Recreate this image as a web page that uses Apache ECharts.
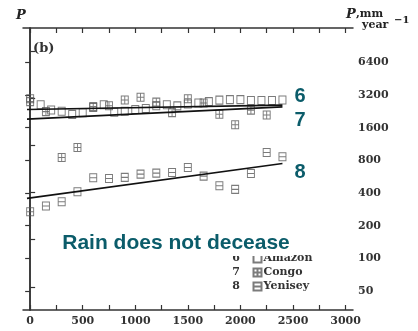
<!DOCTYPE html>
<html>
<head>
<meta charset="utf-8">
<script src="https://cdn.jsdelivr.net/npm/echarts@6.0.0/dist/echarts.min.js"></script>
<style>
  html, body { margin: 0; padding: 0; background: #fff; }
  #chart { width: 418px; height: 331px; }
</style>
</head>
<body>
<div id="chart"></div>
<script>
// Amazon (6), every 100 units
var amazonX = [0, 100, 200, 300, 400, 500, 600, 700, 800, 900, 1000, 1100, 1200,
  1300, 1400, 1500, 1600, 1700, 1800, 1900, 2000, 2100, 2200, 2300, 2400];
var amazonP = [2950, 2600, 2330, 2270, 2120, 2200, 2450, 2600, 2220, 2270, 2350, 2400, 2550,
  2600, 2540, 2640, 2700, 2780, 2870, 2900, 2900, 2850, 2850, 2850, 2880];

// Congo (7)
var congoX = [0, 150, 300, 450, 600, 750, 900, 1050, 1200, 1350, 1500, 1650, 1800, 1950, 2100, 2250];
var congoP = [2780, 2250, 851, 1050, 2500, 2550, 2880, 3050, 2750, 2200, 2950, 2700, 2130, 1700, 2320, 2090];

// Yenisey (8)
var yeniseyX = [0, 150, 300, 450, 600, 750, 900, 1050, 1200, 1350, 1500, 1650, 1800, 1950, 2100, 2250, 2400];
var yeniseyP = [269, 303, 332, 410, 552, 545, 557, 597, 610, 619, 688, 572, 466, 432, 606, 946, 862];

// fitted trend lines, end points
var trendX = [-30, 2400];
var trend6 = [2354, 2580];
var trend7 = [1916, 2487];
var trend8 = [357, 749];

var xLabels = [0, 500, 1000, 1500, 2000, 2500, 3000];
var xTicks = [0, 250, 500, 750, 1000, 1250, 1500, 1750, 2000, 2250, 2500, 2750, 3000];
var yLabels = [50, 100, 200, 400, 800, 1600, 3200, 6400];
var leftTicks = [54.6, 148.4, 403.4, 1096.6, 2981, 8103];

var teal = '#0b5c6a';
var serif = 'DejaVu Serif';
var markColor = '#5a5a5a';

function pairs(xs, ys) {
  return xs.map(function (x, i) { return [x, ys[i]]; });
}

function plain(v) { return String(Math.round(v)); }

var symPlain = 'path://M0,0H10V10H0Z';
var symCross = 'path://M0,0H10V10H0Z M5,0V10 M0,5H10';
var symBar = 'path://M0,0H10V10H0Z M0,5H10';

var axisLine = { show: true, lineStyle: { color: '#333', width: 1.5 } };

var chart = echarts.init(document.getElementById('chart'), null, { renderer: 'canvas' });

function scatter(name, xs, ys, sym) {
  return {
    name: name, type: 'scatter', data: pairs(xs, ys),
    symbol: sym, symbolSize: [7, 8], xAxisIndex: 0, yAxisIndex: 0,
    itemStyle: { color: 'none', borderColor: markColor, borderWidth: 1 },
    emphasis: { disabled: true }, z: 3
  };
}

function trend(ys) {
  return {
    type: 'line', data: pairs(trendX, ys), showSymbol: false, symbol: 'none',
    lineStyle: { color: '#111', width: 1.6 }, silent: true, z: 4
  };
}

var option = {
  animation: false,
  backgroundColor: '#fff',
  grid: { left: 23, right: 65, top: 28, bottom: 21 },
  xAxis: [{
    type: 'value', position: 'bottom', min: -68, max: 3071,
    axisLine: axisLine,
    axisTick: { show: true, inside: true, length: 5, customValues: xTicks, lineStyle: { color: '#333', width: 1.2 } },
    axisLabel: { customValues: xLabels, formatter: plain, fontFamily: serif, fontWeight: 'bold', fontSize: 11, color: '#333', margin: 6 },
    splitLine: { show: false }
  }, {
    type: 'value', position: 'top', min: -68, max: 3071,
    axisLine: axisLine,
    axisTick: { show: true, inside: true, length: 5, customValues: xTicks, lineStyle: { color: '#333', width: 1.2 } },
    axisLabel: { show: false },
    splitLine: { show: false }
  }],
  yAxis: [{
    type: 'log', logBase: 2, position: 'right', min: 33.4, max: 13260,
    axisLine: axisLine,
    axisTick: { show: true, inside: true, length: 5, customValues: yLabels, lineStyle: { color: '#333', width: 1.2 } },
    axisLabel: { customValues: yLabels, formatter: plain, fontFamily: serif, fontWeight: 'bold', fontSize: 11, color: '#333', margin: 5 },
    splitLine: { show: false }
  }, {
    type: 'log', logBase: 2, position: 'left', min: 33.4, max: 13260,
    axisLine: axisLine,
    axisTick: { show: true, inside: true, length: 5, customValues: leftTicks, lineStyle: { color: '#333', width: 1.2 } },
    axisLabel: { show: false },
    splitLine: { show: false }
  }],
  legend: {
    data: ['Amazon', 'Congo', 'Yenisey'],
    orient: 'vertical', left: 251, top: 252, padding: 0,
    itemWidth: 8, itemHeight: 8, itemGap: 1,
    selectedMode: false,
    textStyle: { fontFamily: serif, fontWeight: 'bold', fontSize: 11, color: '#333', lineHeight: 13, padding: [0, 0, 0, -3] }
  },
  series: [
    scatter('Amazon', amazonX, amazonP, symPlain),
    scatter('Congo', congoX, congoP, symCross),
    scatter('Yenisey', yeniseyX, yeniseyP, symBar),
    trend(trend6), trend(trend7), trend(trend8)
  ],
  graphic: [
    { type: 'text', left: 16, top: 9, style: { text: 'P', font: 'italic bold 13px "DejaVu Serif"', fill: '#222' } },
    { type: 'text', left: 346, top: 8, style: { text: 'P', font: 'italic bold 13px "DejaVu Serif"', fill: '#222' } },
    { type: 'text', left: 356, top: 9, style: { text: ',mm', font: 'bold 11px "DejaVu Serif"', fill: '#222' } },
    { type: 'text', left: 362, top: 20, style: { text: 'year', font: 'bold 11px "DejaVu Serif"', fill: '#222' } },
    { type: 'text', left: 394, top: 15, style: { text: '\u22121', font: 'bold 10px "DejaVu Serif"', fill: '#222' } },
    { type: 'text', left: 33, top: 42, style: { text: '(b)', font: 'bold 13px "DejaVu Serif"', fill: '#333' } },
    { type: 'text', x: 300, y: 96, style: { text: '6', font: 'bold 20px "Liberation Sans"', fill: teal, align: 'center', verticalAlign: 'middle' } },
    { type: 'text', x: 300, y: 120, style: { text: '7', font: 'bold 20px "Liberation Sans"', fill: teal, align: 'center', verticalAlign: 'middle' } },
    { type: 'text', x: 300, y: 172, style: { text: '8', font: 'bold 20px "Liberation Sans"', fill: teal, align: 'center', verticalAlign: 'middle' } },
    { type: 'text', x: 236, y: 258, style: { text: '6', font: 'bold 11px "DejaVu Serif"', fill: '#333', align: 'center', verticalAlign: 'middle' } },
    { type: 'text', x: 236, y: 272, style: { text: '7', font: 'bold 11px "DejaVu Serif"', fill: '#333', align: 'center', verticalAlign: 'middle' } },
    { type: 'text', x: 236, y: 286, style: { text: '8', font: 'bold 11px "DejaVu Serif"', fill: '#333', align: 'center', verticalAlign: 'middle' } },
    { type: 'text', x: 176, y: 243, z: 100, style: {
      text: 'Rain does not decease', font: 'bold 21px "Liberation Sans"', fill: teal,
      align: 'center', verticalAlign: 'middle', backgroundColor: '#fff', padding: [1, 4, 4, 4]
    } }
  ]
};

chart.setOption(option);
</script>
</body>
</html>
